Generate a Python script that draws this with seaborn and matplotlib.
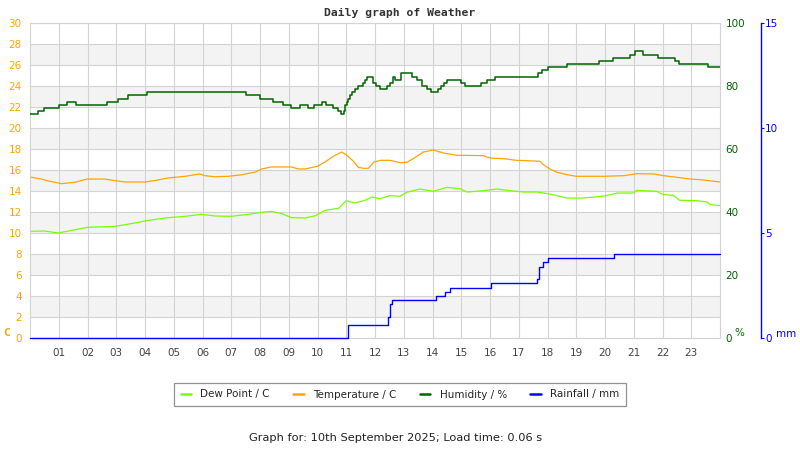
import matplotlib
matplotlib.use("Agg")
import matplotlib.pyplot as plt
from matplotlib.lines import Line2D
import seaborn as sns

# ---------------------------
# data (hours since midnight)
# ---------------------------
temp_hours = [0, 0.4, 0.64, 0.87, 1.1, 1.56, 1.9, 2.0, 2.6, 2.96, 3.3, 4.0, 4.35, 4.8,
              5.4, 5.9, 6.1, 6.43, 6.9, 7.37, 7.83, 8.06, 8.4, 9.1, 9.33, 9.57, 10.0,
              10.26, 10.55, 10.84, 11.0, 11.25, 11.42, 11.6, 11.77, 11.95, 12.18, 12.53,
              12.87, 13.1, 13.33, 13.68, 14.03, 14.38, 14.84, 15.77, 16.0, 16.47, 16.93,
              17.28, 17.74, 17.86, 18.09, 18.33, 18.67, 19.0, 19.97, 20.66, 21.1, 21.7,
              22.03, 22.6, 22.96, 23.43, 23.9, 24.0]
temp_c = [15.33, 15.14, 14.95, 14.83, 14.7, 14.83, 15.08, 15.14, 15.14, 14.98, 14.86, 14.86,
          15.0, 15.24, 15.4, 15.62, 15.45, 15.36, 15.4, 15.55, 15.8, 16.1, 16.29, 16.29, 16.1,
          16.1, 16.35, 16.76, 17.3, 17.71, 17.46, 16.83, 16.25, 16.16, 16.16, 16.73, 16.92,
          16.92, 16.7, 16.73, 17.08, 17.71, 17.9, 17.62, 17.4, 17.37, 17.14, 17.08, 16.92,
          16.89, 16.83, 16.5, 16.1, 15.78, 15.56, 15.4, 15.4, 15.46, 15.65, 15.62, 15.46,
          15.27, 15.14, 15.05, 14.89, 14.86]

dew_hours = [0, 0.5, 0.98, 1.45, 2.0, 2.96, 3.65, 4.1, 4.8, 5.4, 5.97, 6.43, 7.0, 7.6, 8.06,
             8.4, 8.76, 9.1, 9.57, 9.93, 10.26, 10.73, 11.0, 11.3, 11.65, 11.89, 12.18,
             12.53, 12.87, 13.1, 13.56, 14.03, 14.49, 14.96, 15.2, 15.77, 16.24, 16.7,
             17.16, 17.63, 18.09, 18.67, 19.25, 19.97, 20.43, 21.0, 21.1, 21.8, 22.03,
             22.38, 22.6, 23.2, 23.55, 23.66, 24.0]
dew_c = [10.16, 10.19, 10.0, 10.25, 10.54, 10.63, 10.95, 11.2, 11.46, 11.59, 11.78, 11.62,
         11.59, 11.78, 11.97, 12.06, 11.84, 11.46, 11.43, 11.65, 12.16, 12.35, 13.08, 12.86,
         13.11, 13.43, 13.27, 13.56, 13.49, 13.87, 14.19, 13.97, 14.35, 14.22, 13.9, 14.03,
         14.19, 14.03, 13.9, 13.9, 13.71, 13.33, 13.33, 13.52, 13.81, 13.81, 14.06, 13.97,
         13.65, 13.59, 13.11, 13.08, 12.95, 12.7, 12.6]

hum_hours = [0, 0.28, 0.48, 1.0, 1.3, 1.6, 2.67, 3.07, 3.4, 4.06, 7.5, 8.0, 8.46, 8.8, 9.08,
             9.4, 9.68, 9.88, 10.15, 10.3, 10.55, 10.7, 10.8, 10.92, 10.97, 11.02, 11.07,
             11.13, 11.2, 11.3, 11.42, 11.59, 11.65, 11.71, 11.92, 12.04, 12.18, 12.41,
             12.52, 12.64, 12.7, 12.9, 13.3, 13.45, 13.62, 13.8, 13.95, 14.2, 14.3, 14.4,
             14.5, 15.0, 15.12, 15.7, 15.9, 16.17, 17.68, 17.8, 18.02, 18.67, 19.79, 20.29,
             20.87, 21.04, 21.33, 21.85, 22.43, 22.58, 23.58, 24.0]
hum_pct = [71, 72, 73, 74, 75, 74, 75, 76, 77, 78, 77, 76, 75, 74, 73, 74, 73, 74, 75, 74,
           73, 72, 71, 72, 74, 75, 76, 77, 78, 79, 80, 81, 82, 83, 81, 80, 79, 80, 81, 83,
           82, 84, 83, 82, 80, 79, 78, 79, 80, 81, 82, 81, 80, 81, 82, 83, 84, 85, 86, 87,
           88, 89, 90, 91, 90, 89, 88, 87, 86, 86]

rain_hours = [0, 11.05, 12.44, 12.52, 12.6, 14.12, 14.42, 14.6, 16.02, 17.65, 17.72, 17.83,
              18.0, 20.33, 24.0]
rain_mm = [0, 0.6, 1.0, 1.6, 1.8, 2.0, 2.2, 2.4, 2.6, 2.8, 3.4, 3.6, 3.8, 4.0, 4.0]

hour_labels = [f"{h:02d}" for h in range(1, 24)]

C_DEW = "#7cfc00"
C_TEMP = "#ffa500"
C_HUM = "#006400"
C_RAIN = "#0000ff"
GRID = "#d3d3d3"

sns.set_theme(style="white")
plt.rcParams["font.family"] = ["DejaVu Sans"]

fig = plt.figure(figsize=(8, 4.5), dpi=100)
ax = fig.add_axes([30 / 800, 1 - 338 / 450, 690 / 800, 315 / 450])

# alternating background bands + grid
for lo in range(2, 30, 4):
    ax.axhspan(lo, lo + 2, color="#f3f3f3", lw=0, zorder=0)
ax.set_xlim(0, 24)
ax.set_ylim(0, 30)
ax.set_yticks(range(0, 31, 2))
ax.set_xticks(range(1, 24))
ax.set_xticklabels(hour_labels)
ax.grid(True, color=GRID, lw=0.8, zorder=1)
ax.set_axisbelow(True)
for s in ax.spines.values():
    s.set_color(GRID)
    s.set_linewidth(0.8)
ax.tick_params(axis="y", length=0, pad=6, labelsize=7.5, labelcolor=C_TEMP)
ax.tick_params(axis="x", length=0, pad=7, labelsize=7.5, labelcolor="#444444")

sns.lineplot(x=dew_hours, y=dew_c, ax=ax, color=C_DEW, lw=0.9, sort=False, estimator=None)
sns.lineplot(x=temp_hours, y=temp_c, ax=ax, color=C_TEMP, lw=0.9, sort=False, estimator=None)

# humidity axis
ax2 = ax.twinx()
sns.lineplot(x=hum_hours, y=hum_pct, ax=ax2, color=C_HUM, lw=1.1, sort=False,
             estimator=None, drawstyle="steps-post")
ax2.set_ylim(0, 100)
ax2.set_yticks(range(0, 101, 20))
ax2.tick_params(axis="y", length=0, pad=4, labelsize=7.5, labelcolor=C_HUM)
for s in ax2.spines.values():
    s.set_visible(False)

# rainfall axis
ax3 = ax.twinx()
sns.lineplot(x=rain_hours, y=rain_mm, ax=ax3, color=C_RAIN, lw=1.0, sort=False,
             estimator=None, drawstyle="steps-post", clip_on=False)
ax3.set_ylim(0, 15)
ax3.set_yticks([0, 5, 10, 15])
for s in ax3.spines.values():
    s.set_visible(False)
ax3.spines["right"].set_visible(True)
ax3.spines["right"].set_position(("axes", (761 - 30) / 690))
ax3.spines["right"].set_color(C_RAIN)
ax3.spines["right"].set_linewidth(1.0)
ax3.tick_params(axis="y", length=2, width=0.8, color=C_RAIN, pad=1,
                labelsize=7.5, labelcolor=C_RAIN)
ax3.set_xlim(0, 24)

for a in (ax, ax2, ax3):
    a.set_xlabel("")
    a.set_ylabel("")

# unit labels and titles
fig.text(6 / 800, 1 - 333 / 450, "C", color=C_TEMP, fontsize=8, weight="bold",
         family="DejaVu Sans Mono", ha="center", va="center")
fig.text(739 / 800, 1 - 333 / 450, "%", color=C_HUM, fontsize=7.5, ha="center", va="center")
fig.text(786 / 800, 1 - 334 / 450, "mm", color=C_RAIN, fontsize=7.5, ha="center", va="center")
fig.text(0.5, 1 - 13 / 450, "Daily graph of Weather", family="DejaVu Sans Mono",
         weight="bold", fontsize=8.2, color="#333333", ha="center", va="center")
fig.text(396 / 800, 1 - 438 / 450, "Graph for: 10th September 2025; Load time: 0.06 s",
         fontsize=8.2, color="#222222", ha="center", va="center")

handles = [Line2D([], [], color=c, lw=1.8) for c in (C_DEW, C_TEMP, C_HUM, C_RAIN)]
labels = ["Dew Point / C", "Temperature / C", "Humidity / %", "Rainfall / mm"]
leg = fig.legend(handles, labels, loc="center", bbox_to_anchor=(0.5, 1 - 394.5 / 450),
                 ncol=4, fontsize=7.5, frameon=True, fancybox=False, handlelength=1.0,
                 handletextpad=0.9, columnspacing=2.25, borderpad=0.6, edgecolor="#777777")
leg.get_frame().set_linewidth(0.9)

fig.savefig("out.png", dpi=100)
